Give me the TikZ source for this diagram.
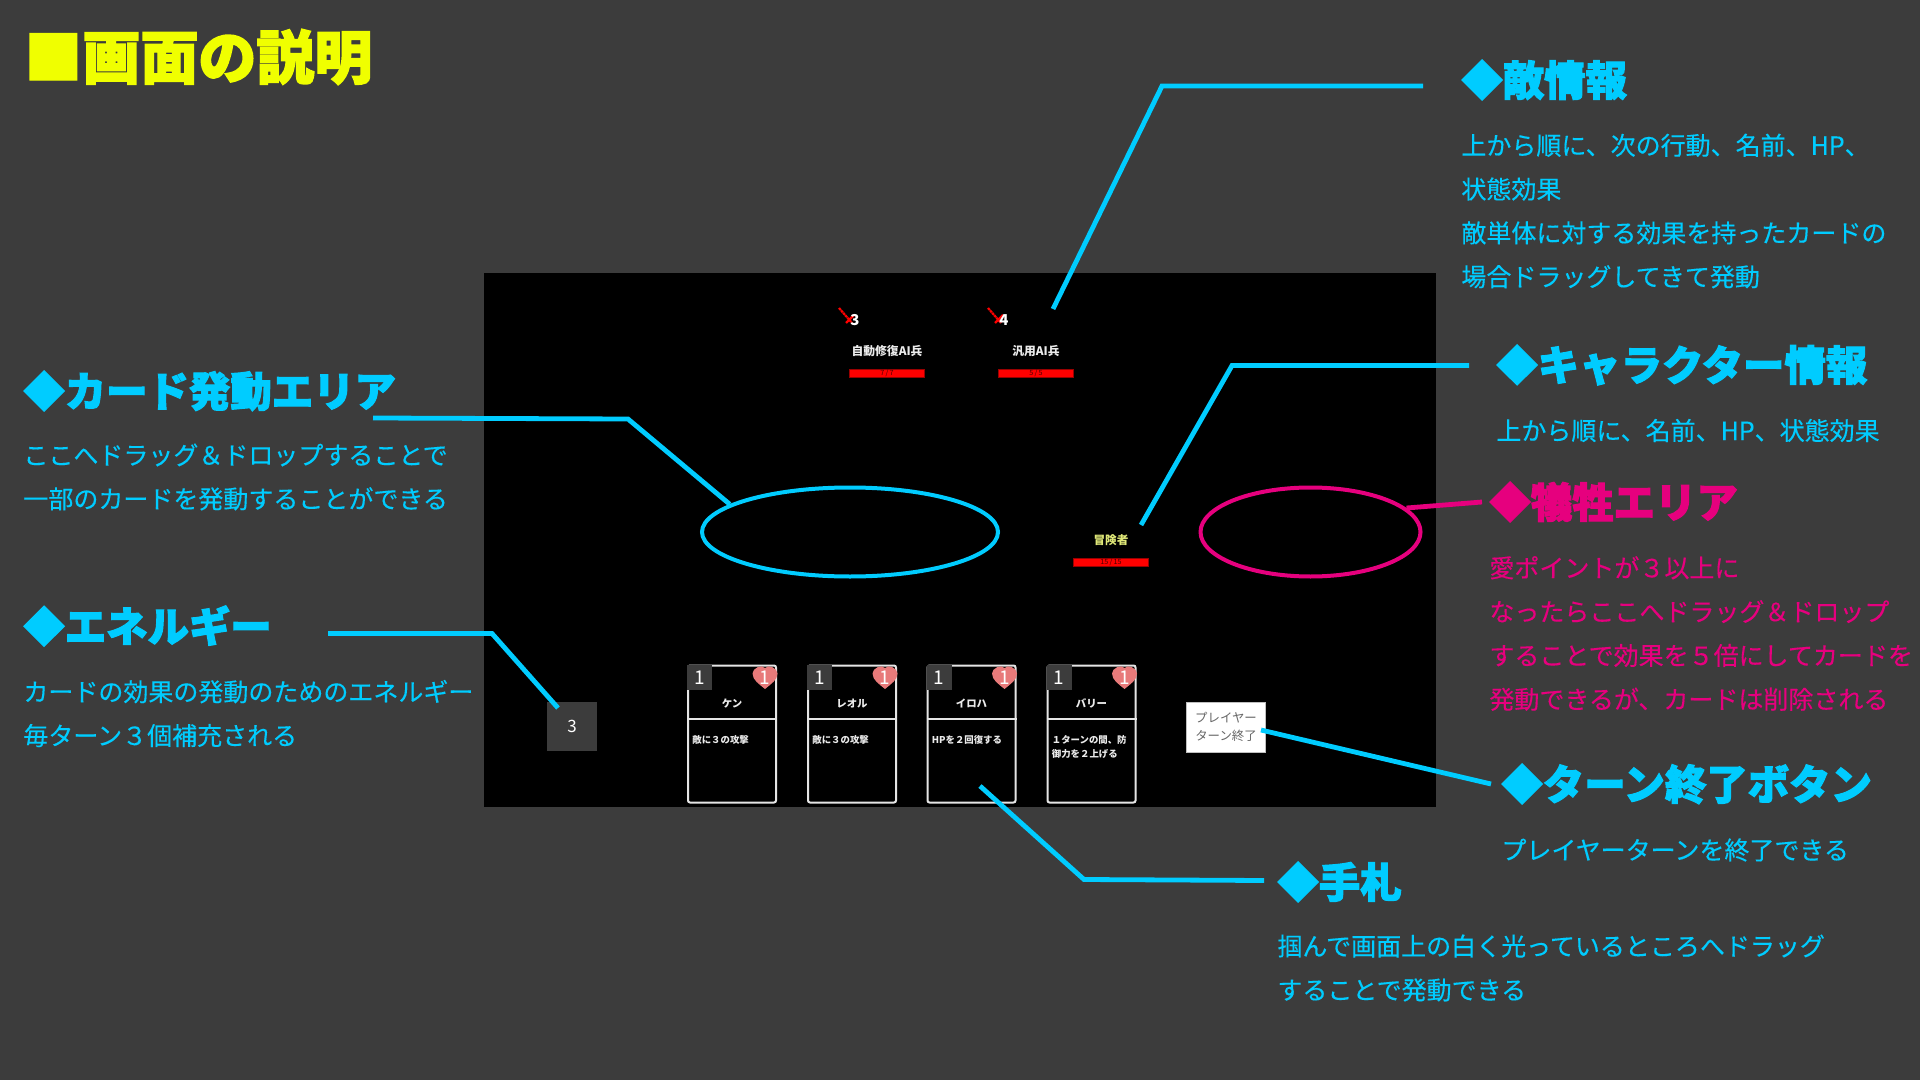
\documentclass[tikz,border=0pt]{standalone}
\usepackage{fontspec}
\setmainfont{Noto Sans CJK JP}
\newfontfamily\jp{Noto Sans CJK JP}
\newfontfamily\bd[FakeBold=0.25]{Noto Sans CJK JP}
\newfontfamily\hd[BoldFeatures={FakeBold=2.5}]{Noto Sans CJK JP}
\definecolor{bgc}{HTML}{3C3C3C}
\definecolor{cy}{HTML}{00CCFF}
\definecolor{pk}{HTML}{E6007E}
\definecolor{ye}{HTML}{F0FF00}
\definecolor{hp}{HTML}{FF0000}
\definecolor{hrt}{HTML}{E87A7A}
\definecolor{pl}{HTML}{E0E878}
\newcommand{\hpsl}{\,/\,}
\tikzset{
 x=0.5pt,y=-0.5pt,
 head/.style={anchor=west,inner sep=0pt,font=\hd\bfseries\fontsize{20.7}{24}\selectfont},
 body/.style={anchor=west,inner sep=0pt,align=left,font=\bd\fontsize{12.5}{21.9}\selectfont},
 leader/.style={line width=2.4pt,line cap=butt,line join=miter},
 area/.style={draw,ellipse,line width=2pt,inner sep=0pt},
 hpbar/.style={fill=hp,draw=black!40!hp,line width=0.3pt,minimum width=37.5pt,minimum height=4pt,inner sep=0pt,text=black!70!hp,font=\jp\fontsize{3.6}{4}\selectfont},
 ename/.style={text=white!92!black,inner sep=0pt,font=\jp\bfseries\fontsize{5.9}{7}\selectfont},
 enum/.style={text=white,inner sep=0pt,font=\jp\bfseries\fontsize{7.5}{8}\selectfont},
 cardbox/.style={draw=white!90!black,line width=1pt,rounded corners=1pt,minimum width=44pt,minimum height=68.5pt,inner sep=0pt,fill=black},
 costbox/.style={fill=bgc,minimum width=12.5pt,minimum height=12.5pt,inner sep=0pt,text=white,font=\jp\fontsize{9.5}{10}\selectfont},
 cname/.style={text=white!92!black,inner sep=0pt,font=\jp\bfseries\fontsize{5.2}{6}\selectfont},
 cdesc/.style={text=white!92!black,inner sep=0pt,anchor=north west,align=left,font=\jp\bfseries\fontsize{4.7}{6.7}\selectfont},
}
\usetikzlibrary{shapes.geometric,calc}
\begin{document}
\begin{tikzpicture}
\useasboundingbox[fill=bgc] (0,0) rectangle (1920,1080);
\node[fill=black,minimum width=476pt,minimum height=267pt,inner sep=0pt] (screen) at (960,540) {};

% title
\node[anchor=west,inner sep=0pt,text=ye,font=\hd\bfseries\fontsize{29}{32}\selectfont] (title) at (24,57) {■画面の説明};

% enemies
\foreach \n/\x/\lab/\hpa/\v in {a/887/自動修復AI兵/7/3,b/1036/汎用AI兵/5/4}{
 \node[ename] (en\n) at (\x,351) {\lab};
 \node[hpbar] (hp\n) at (\x,373) {\hpa\hpsl\hpa};
 \draw[hp,line width=1.1pt,dash pattern=on 1.3pt off 0.3pt] (\x-48,308) -- (\x-35,323);
 \draw[hp,line width=1.1pt] (\x-41,323) -- (\x-33,315);
 \node[enum] (num\n) at (\x-32,320) {\v};
}

% player
\node[inner sep=0pt,text=pl,font=\jp\bfseries\fontsize{5.8}{7}\selectfont] (pname) at (1111,540) {冒険者};
\node[hpbar] (php) at (1111,562) {15\hpsl 15};

% areas
\node[area,draw=cy,minimum width=148pt,minimum height=44.5pt] (playarea) at (850,532) {};
\node[area,draw=pk,minimum width=110pt,minimum height=44.5pt] (sacarea) at (1310.5,532) {};

% energy
\node[fill=bgc,minimum width=25pt,minimum height=24.5pt,inner sep=0pt,text=white,font=\jp\fontsize{8.5}{10}\selectfont] (energy) at (572,726.5) {3};

% end turn
\node[fill=white,draw=black!25,line width=0.3pt,minimum width=39.5pt,minimum height=25pt,inner sep=0pt,align=center,text=black!60,font=\jp\fontsize{6.2}{8.8}\selectfont] (endturn) at (1226,727) {プレイヤー\\ターン終了};

% cards
\foreach \n/\x/\nm/\d in {1/732/ケン/敵に３の攻撃,2/852/レオル/敵に３の攻撃,3/971.5/イロハ/HPを２回復する,4/1091.5/バリー/１ターンの間、防\\御力を２上げる}{
 \node[cardbox] (card\n) at (\x,734) {};
 \draw[white!90!black,line width=1.3pt] (card\n.west |- 0,719) -- (card\n.east |- 0,719);
 \node[costbox] (cost\n) at (\x-32.5,677.5) {1};
 \fill[hrt] (\x+33,689) .. controls (\x+27,684) and (\x+20.5,680) .. (\x+20.5,673.5)
   .. controls (\x+20.5,668) and (\x+30,664) .. (\x+33,668)
   .. controls (\x+36,664) and (\x+45.5,668) .. (\x+45.5,673.5)
   .. controls (\x+45.5,680) and (\x+39,684) .. (\x+33,689) -- cycle;
 \node[text=white,inner sep=0pt,font=\jp\fontsize{9.5}{10}\selectfont] (love\n) at (\x+33,677.5) {1};
 \node[cname] (cname\n) at (\x,703.5) {\nm};
 \node[cdesc] (cdesc\n) at (\x-40,735.5) {\d};
}

% headings and bodies
\node[head,text=cy] (h1) at (1461,80) {◆敵情報};
\node[body,text=cy] (b1) at (1461,211) {上から順に、次の行動、名前、HP、\\状態効果\\敵単体に対する効果を持ったカードの\\場合ドラッグしてきて発動};
\node[head,text=cy] (h2) at (1496,365) {◆キャラクター情報};
\node[body,text=cy] (b2) at (1496,430.5) {上から順に、名前、HP、状態効果};
\node[head,text=pk] (h3) at (1489,502) {◆犠牲エリア};
\node[body,text=pk] (b3) at (1489,633.5) {愛ポイントが３以上に\\なったらここへドラッグ＆ドロップ\\することで効果を５倍にしてカードを\\発動できるが、カードは削除される};
\node[head,text=cy] (h4) at (1501,784) {◆ターン終了ボタン};
\node[body,text=cy] (b4) at (1501,850) {プレイヤーターンを終了できる};
\node[head,text=cy] (h5) at (1277,882) {◆手札};
\node[body,text=cy] (b5) at (1277,968) {掴んで画面上の白く光っているところへドラッグ\\することで発動できる};
\node[head,text=cy] (h6) at (23,391) {◆カード発動エリア};
\node[body,text=cy] (b6) at (23,477) {ここへドラッグ＆ドロップすることで\\一部のカードを発動することができる};
\node[head,text=cy] (h7) at (23,626) {◆エネルギー};
\node[body,text=cy] (b7) at (23,713.5) {カードの効果の発動のためのエネルギー\\毎ターン３個補充される};

% connector ends
\coordinate (l1a) at (1053,309);
\coordinate (l2a) at (1141,525);
\coordinate (l5a) at (980,786);
\coordinate (l4a) at (1261,730);
\draw[leader,cy] (l1a) -- (1162,86) -- (1423,86);
\draw[leader,cy] (l2a) -- (1232,365.5) -- (1469,365.5);
\draw[leader,cy] (373,418) -- (628,419) -- (playarea.167);
\draw[leader,pk] (sacarea.east |- 0,508) ++(-16,0) -- (1482,502);
\draw[leader,cy] (328,633.5) -- (492,633.5) -- (558,708);
\draw[leader,cy] (l4a) -- (1491,784);
\draw[leader,cy] (l5a) -- (1084,879.5) -- (1264,880.5);
\end{tikzpicture}
\end{document}
